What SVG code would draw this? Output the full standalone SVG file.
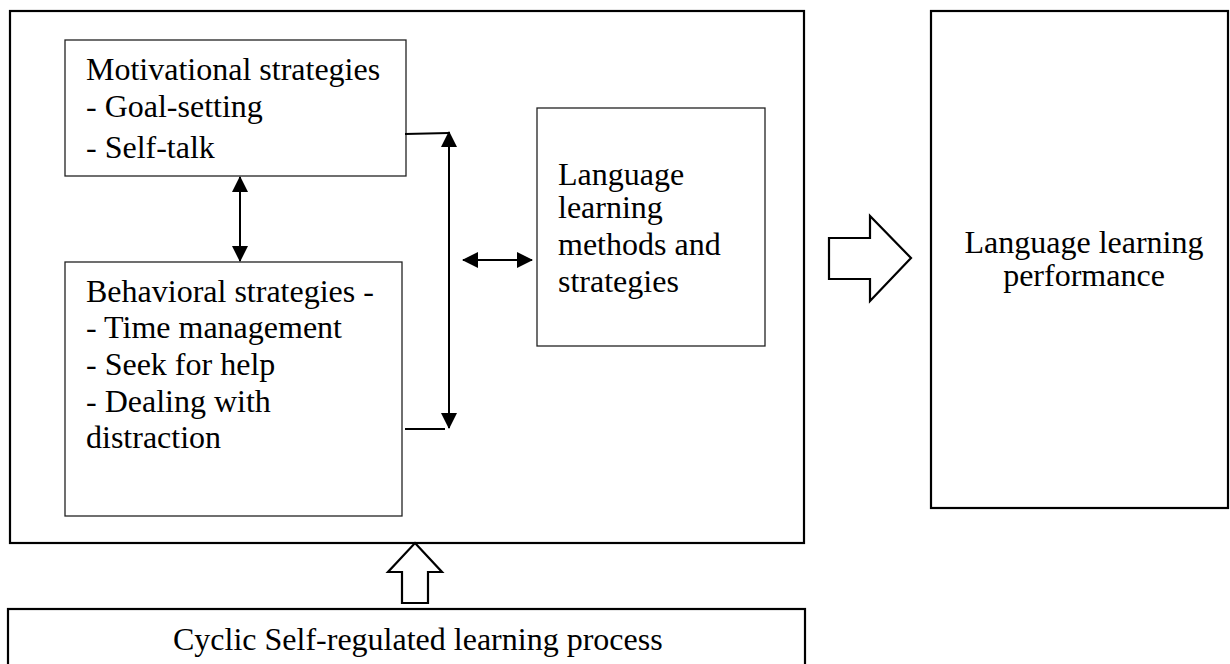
<svg xmlns="http://www.w3.org/2000/svg" width="1230" height="664" viewBox="0 0 1230 664">
  <style>
    .frame { fill: #fff; stroke: #000; stroke-width: 2.2; }
    .box { fill: #fff; stroke: #222; stroke-width: 1.3; }
    .lbl { font-family: "Liberation Serif", "Times New Roman", serif; font-size: 32px; fill: #000; }
    .mid { text-anchor: middle; }
    .link { stroke: #000; stroke-width: 2; fill: none; }
    .block { fill: #fff; stroke: #000; stroke-width: 2.2; stroke-linejoin: miter; }
  </style>
  <defs>
    <marker id="head" viewBox="0 0 16 16" refX="15" refY="8" markerWidth="16" markerHeight="16" markerUnits="userSpaceOnUse" orient="auto-start-reverse">
      <path d="M0,0 L16,8 L0,16 Z" fill="#000"/>
    </marker>
  </defs>

  <rect width="1230" height="664" fill="#fff"/>

  <!-- outer frame holding the strategy boxes -->
  <g id="strategies-frame">
    <rect class="frame" x="10" y="11" width="794" height="532"/>
  </g>

  <g id="motivational">
    <rect class="box" x="65" y="40" width="341" height="136"/>
    <text class="lbl" x="86" y="80">Motivational strategies</text>
    <text class="lbl" x="86" y="117">- Goal-setting</text>
    <text class="lbl" x="86" y="158">- Self-talk</text>
  </g>

  <g id="behavioral">
    <rect class="box" x="65" y="262" width="337" height="254"/>
    <text class="lbl" x="86" y="302">Behavioral strategies -</text>
    <text class="lbl" x="86" y="338">- Time management</text>
    <text class="lbl" x="86" y="375">- Seek for help</text>
    <text class="lbl" x="86" y="412">- Dealing with</text>
    <text class="lbl" x="86" y="448">distraction</text>
  </g>

  <g id="methods">
    <rect class="box" x="537" y="108" width="228" height="238"/>
    <text class="lbl" x="558" y="185">Language</text>
    <text class="lbl" x="558" y="218">learning</text>
    <text class="lbl" x="558" y="255">methods and</text>
    <text class="lbl" x="558" y="292">strategies</text>
  </g>

  <g id="performance">
    <rect class="frame" x="931" y="11" width="297" height="497"/>
    <text class="lbl mid" x="1084" y="253">Language learning</text>
    <text class="lbl mid" x="1084" y="286">performance</text>
  </g>

  <g id="cyclic-process">
    <rect class="frame" x="8" y="609" width="797" height="70"/>
    <text class="lbl" x="173" y="650" font-size="31.3">Cyclic Self-regulated learning process</text>
  </g>

  <g id="connectors">
    <!-- motivational <-> behavioral -->
    <line class="link" x1="240" y1="177" x2="240" y2="261" marker-start="url(#head)" marker-end="url(#head)"/>
    <!-- bracket joining both strategy boxes -->
    <line class="link" x1="405" y1="134" x2="449" y2="133"/>
    <line class="link" x1="405" y1="429" x2="445" y2="429"/>
    <line class="link" x1="449" y1="132" x2="449" y2="428" marker-start="url(#head)" marker-end="url(#head)"/>
    <!-- bracket <-> methods -->
    <line class="link" x1="463" y1="260" x2="532" y2="260" marker-start="url(#head)" marker-end="url(#head)"/>
    <!-- block arrows -->
    <polygon class="block" points="829,238 870,238 870,216 911,258 870,301 870,279 829,279"/>
    <polygon class="block" points="415,543 442,572 428,572 428,603 402,603 402,572 388,572"/>
  </g>
</svg>
